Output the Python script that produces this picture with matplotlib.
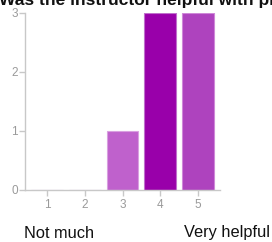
import matplotlib.pyplot as plt

plt.rcParams['font.family'] = ['Liberation Sans', 'DejaVu Sans']

ratings = [1, 2, 3, 4, 5]
counts = [0, 0, 1, 3, 3]
bar_colors = ['#c062cc', '#c062cc', '#bf61cc', '#9900aa', '#ae43be']
edge_colors = ['#d9a0e0', '#d9a0e0', '#d9a0e0', '#c070cc', '#cf88d8']
title = 'Was the instructor helpful with problems?'
low_label = 'Not much'
high_label = 'Very helpful'

fig = plt.figure(figsize=(2.72, 2.42), dpi=100)
ax = fig.add_axes([25 / 272, 52.5 / 242, 195 / 272, 177 / 242])

ax.bar(ratings, counts, width=0.84, color=bar_colors, edgecolor=edge_colors, linewidth=0.8)

ax.set_xlim(0.42, 5.58)
ax.set_ylim(0, 3)
ax.set_xticks(ratings)
ax.set_yticks([0, 1, 2, 3])

for side in ['top', 'right']:
    ax.spines[side].set_visible(False)
for side in ['left', 'bottom']:
    ax.spines[side].set_color('#c8c8c8')
    ax.spines[side].set_linewidth(1)

ax.tick_params(axis='both', colors='#c8c8c8', labelcolor='#9a9a9a', labelsize=8.5, length=4, width=1)
ax.tick_params(axis='x', pad=3)
ax.tick_params(axis='y', pad=1)

fig.text(-0.004, 1 - 5 / 242, title, fontsize=12.5, fontweight='bold', ha='left', va='baseline', color='#111111')
fig.text(24 / 272, 4.5 / 242, low_label, fontsize=11.8, ha='left', va='baseline', color='#111111')
fig.text(270 / 272, 4.5 / 242, high_label, fontsize=11.8, ha='right', va='baseline', color='#111111')

plt.savefig('out.png', dpi=100)
plt.close()
